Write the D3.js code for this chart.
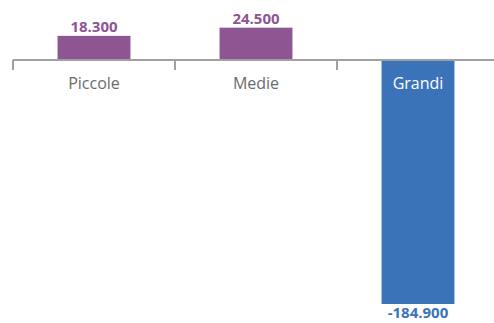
<!DOCTYPE html>
<html><head><meta charset="utf-8">
<script src="https://cdn.jsdelivr.net/npm/d3@7"></script>
<style>html,body{margin:0;padding:0;background:#fff;}svg{display:block;font-family:"Open Sans",sans-serif;}</style>
</head><body>
<svg id="c" width="494" height="323"></svg>
<script>
const categories = ["Piccole", "Medie", "Grandi"];
const values = [18.3, 24.5, -184.9];
const valueLabels = ["18.300", "24.500", "-184.900"];

const svg = d3.select("#c");
const x = d3.scaleBand().domain(categories).range([13, 499]).paddingInner(0.55).paddingOuter(0.275);
const y = d3.scaleLinear().domain([0, -184.9]).range([60, 304]);
const purple = "#8d5591", blue = "#3b73b9";
const step = x.step(), gap = step - x.bandwidth();

svg.selectAll("rect.bar").data(values).join("rect")
  .attr("x", (d,i) => x(categories[i]))
  .attr("width", x.bandwidth())
  .attr("y", d => Math.min(y(d), y(0)))
  .attr("height", d => Math.abs(y(d) - y(0)))
  .attr("fill", d => d >= 0 ? purple : blue);

// axis line
svg.append("line").attr("x1", 13).attr("x2", 494).attr("y1", y(0)).attr("y2", y(0))
  .attr("stroke", "#a0a0a0").attr("stroke-width", 2);
// ticks at band boundaries
const bounds = categories.map(c => x(c) - gap/2).concat([x(categories[2]) + x.bandwidth() + gap/2]);
svg.selectAll("line.tick").data(bounds).join("line")
  .attr("x1", d => d).attr("x2", d => d).attr("y1", y(0)).attr("y2", y(0) + 10)
  .attr("stroke", "#a0a0a0").attr("stroke-width", 2);

// category labels
svg.selectAll("text.cat").data(categories).join("text")
  .attr("x", c => x(c) + x.bandwidth()/2).attr("y", 89)
  .attr("text-anchor", "middle").attr("font-size", 16)
  .attr("fill", (c,i) => values[i] >= 0 ? "#6b6b6b" : "#ffffff")
  .text(c => c);

// value labels
svg.selectAll("text.val").data(values).join("text")
  .attr("x", (d,i) => x(categories[i]) + x.bandwidth()/2)
  .attr("y", d => d >= 0 ? y(d) - 4 : y(d) + 14)
  .attr("text-anchor", "middle").attr("font-size", 15).attr("font-weight", "bold")
  .attr("fill", d => d >= 0 ? purple : blue)
  .text((d,i) => valueLabels[i]);
</script>
</body></html>
